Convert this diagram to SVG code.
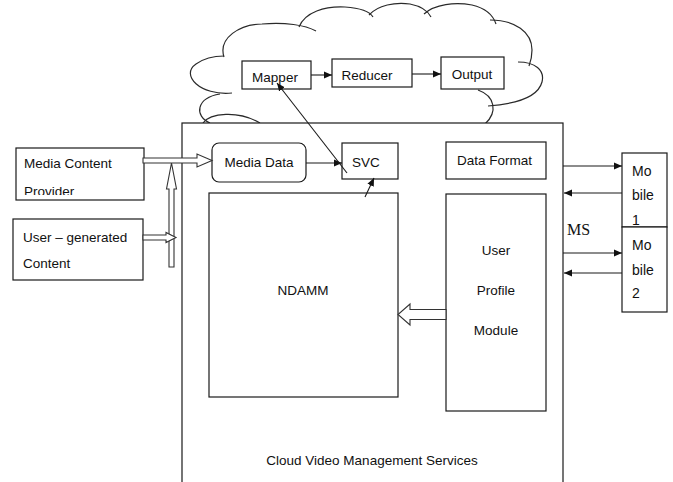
<svg xmlns="http://www.w3.org/2000/svg" width="673" height="482" viewBox="0 0 673 482">
  <style>
    .box { fill: #fff; stroke: #1a1a1a; stroke-width: 1.2; }
    .cloud { fill: none; stroke: #2a2a2a; stroke-width: 1.2; }
    .wire { fill: none; stroke: #1a1a1a; stroke-width: 1.1; }
    .block { fill: #fff; stroke: #333; stroke-width: 1.1; }
    .lbl { font-family: "Liberation Sans", Arial, sans-serif; font-size: 13.5px; fill: #111; }
    .big { font-size: 14px; }
    .mid { text-anchor: middle; }
    .serif { font-family: "Liberation Serif", "Times New Roman", serif; font-size: 16px; fill: #111; }
  </style>
  <defs>
    <marker id="arrow" markerUnits="userSpaceOnUse" markerWidth="9" markerHeight="8" refX="8" refY="4" orient="auto">
      <path d="M0,0.5 L8,4 L0,7.5 z" fill="#111"/>
    </marker>
    <clipPath id="mcpClip">
      <rect x="16" y="148" width="128" height="47"/>
    </clipPath>
  </defs>

  <rect width="673" height="482" fill="#fff"/>

  <!-- cloud outline: overlapping lobes -->
  <g id="cloud">
    <path class="cloud" d="M210,123 C194,116 196,98 220,94"/>
    <path class="cloud" d="M232,93 C200,96 180,75 196,64 C203,59 213,56 224,56"/>
    <path class="cloud" d="M224,57 C218,38 240,24 262,24 C285,22 305,25 316,31"/>
    <path class="cloud" d="M299,27 C305,12 325,6 345,7 C360,8 370,12 373,17"/>
    <path class="cloud" d="M369,15 C378,5 395,2 410,4 C420,6 428,11 431,17"/>
    <path class="cloud" d="M424,14 C435,4 455,2 472,5 C485,8 493,15 496,24"/>
    <path class="cloud" d="M490,20 C515,20 532,32 532,50 C532,56 531,61 529,66"/>
    <path class="cloud" d="M518,62 C535,62 545,70 542,82 C538,97 515,104 488,106"/>
    <path class="cloud" d="M478,90 C495,96 498,112 485,124"/>
    <path class="cloud" d="M203,123 C210,113 238,110 260,123"/>
  </g>

  <!-- service container -->
  <g id="cvms">
    <rect class="box" x="182" y="123" width="381" height="370"/>
    <text class="lbl mid" x="372" y="465">Cloud Video Management Services</text>
  </g>

  <g id="mapper">
    <rect class="box" x="242" y="61" width="69" height="28"/>
    <text class="lbl mid" x="275" y="82">Mapper</text>
  </g>
  <g id="reducer">
    <rect class="box" x="332" y="59" width="80" height="28"/>
    <text class="lbl mid" x="367" y="80">Reducer</text>
  </g>
  <g id="output">
    <rect class="box" x="441" y="57" width="63" height="32"/>
    <text class="lbl mid" x="472" y="79">Output</text>
  </g>

  <g id="media-data">
    <rect class="box" x="212" y="143" width="94" height="39" rx="7"/>
    <text class="lbl mid" x="259" y="167">Media Data</text>
  </g>
  <g id="svc">
    <rect class="box" x="342" y="143" width="56" height="36"/>
    <text class="lbl" x="352" y="167">SVC</text>
  </g>
  <g id="data-format">
    <rect class="box" x="446" y="142" width="100" height="37"/>
    <text class="lbl" x="457" y="165">Data Format</text>
  </g>
  <g id="ndamm">
    <rect class="box" x="209" y="193" width="189" height="204"/>
    <text class="lbl mid" x="303" y="295">NDAMM</text>
  </g>
  <g id="user-profile">
    <rect class="box" x="446" y="194" width="100" height="217"/>
    <text class="lbl mid" x="496" y="255">User</text>
    <text class="lbl mid" x="496" y="295">Profile</text>
    <text class="lbl mid" x="496" y="335">Module</text>
  </g>

  <g id="media-content-provider">
    <rect class="box" x="16" y="148" width="128" height="52"/>
    <g clip-path="url(#mcpClip)">
      <text class="lbl" x="24" y="168">Media Content</text>
      <text class="lbl" x="24" y="196">Provider</text>
    </g>
  </g>
  <g id="user-generated">
    <rect class="box" x="13" y="219" width="130" height="61"/>
    <text class="lbl" x="23" y="242">User – generated</text>
    <text class="lbl" x="23" y="268">Content</text>
  </g>

  <g id="mobile-1">
    <rect class="box" x="622" y="153" width="45" height="74"/>
    <text class="lbl big" x="632" y="176">Mo</text>
    <text class="lbl big" x="632" y="200">bile</text>
    <text class="lbl big" x="632" y="225">1</text>
  </g>
  <g id="mobile-2">
    <rect class="box" x="622" y="227" width="45" height="85"/>
    <text class="lbl big" x="632" y="250">Mo</text>
    <text class="lbl big" x="632" y="275">bile</text>
    <text class="lbl big" x="632" y="298">2</text>
  </g>

  <text id="ms" class="serif" x="567" y="235">MS</text>

  <!-- connectors -->
  <g id="connectors">
    <polygon class="block" points="143,158 197,158 197,154 212,160.5 197,167 197,163 143,163"/>
    <polygon class="block" points="169,267 169,189 166.5,189 171.5,163 176.5,189 174,189 174,267"/>
    <polygon class="block" points="143,235 166,235 166,232.5 176,237.5 166,242.5 166,240 143,240"/>
    <polygon class="block" points="446,309.5 410,309.5 410,304 398,314.5 410,325 410,319.5 446,319.5"/>

    <line class="wire" x1="311" y1="75" x2="332" y2="75" marker-end="url(#arrow)"/>
    <line class="wire" x1="412" y1="74" x2="441" y2="74" marker-end="url(#arrow)"/>
    <line class="wire" x1="306" y1="163" x2="342" y2="163" marker-end="url(#arrow)"/>
    <line class="wire" x1="347" y1="173" x2="277" y2="83" marker-end="url(#arrow)"/>
    <line class="wire" x1="365" y1="197" x2="374" y2="178" marker-end="url(#arrow)"/>

    <line class="wire" x1="563" y1="166" x2="622" y2="166" marker-end="url(#arrow)"/>
    <line class="wire" x1="622" y1="193" x2="564" y2="193" marker-end="url(#arrow)"/>
    <line class="wire" x1="563" y1="253" x2="622" y2="253" marker-end="url(#arrow)"/>
    <line class="wire" x1="622" y1="273" x2="564" y2="273" marker-end="url(#arrow)"/>
  </g>
</svg>
